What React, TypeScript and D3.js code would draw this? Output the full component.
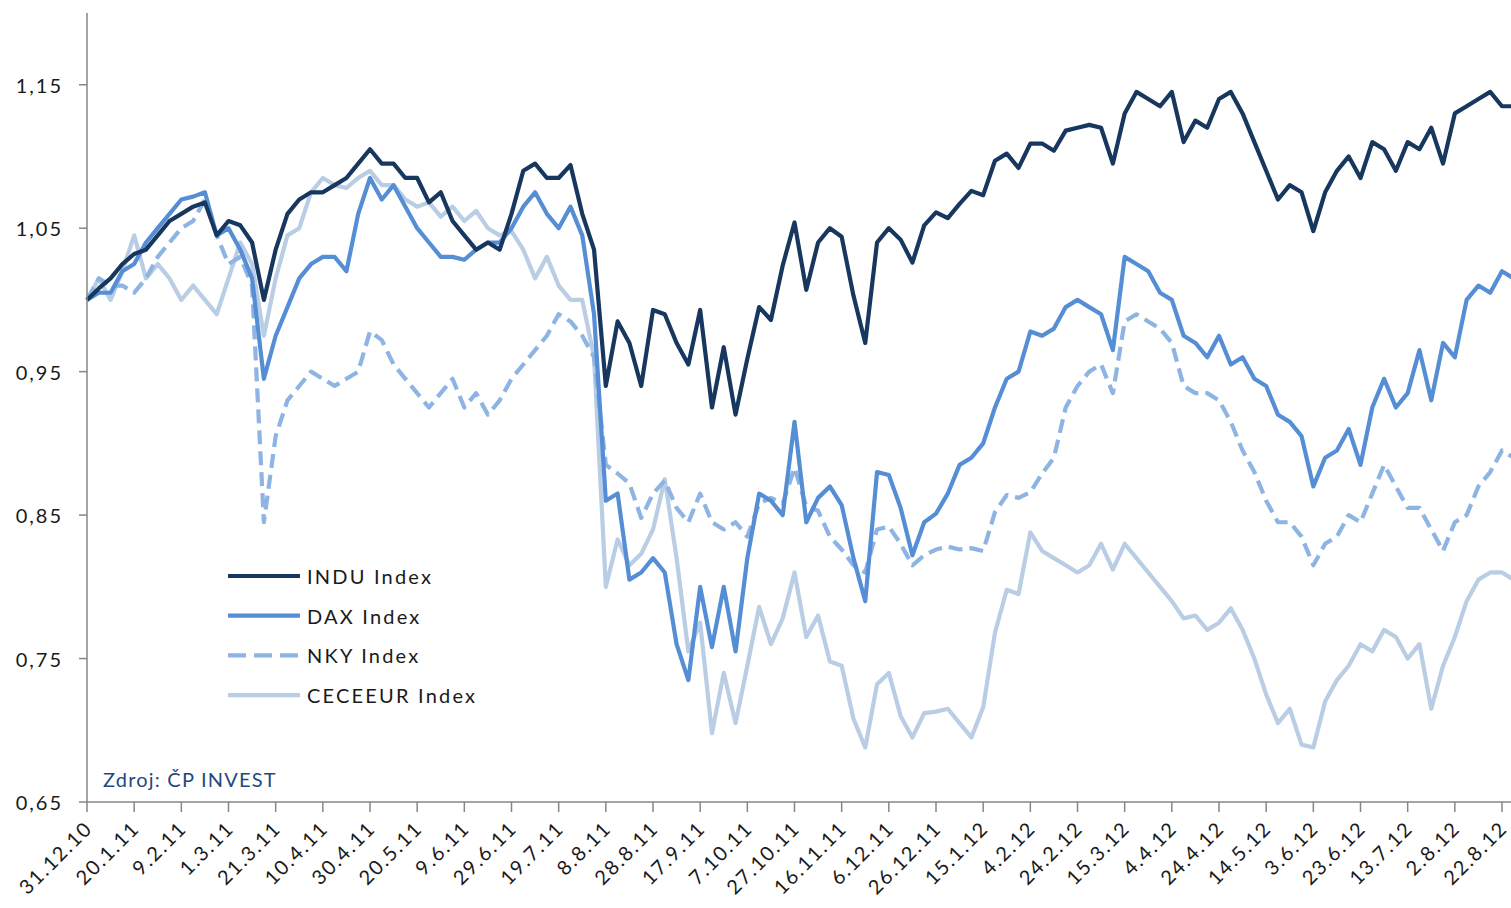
import React from "react";
import * as d3 from "d3";

const startDate = new Date(2010, 11, 31);
const stepDays = 5;

const tickLabels = ["31.12.10","20.1.11","9.2.11","1.3.11","21.3.11","10.4.11","30.4.11","20.5.11","9.6.11","29.6.11","19.7.11","8.8.11","28.8.11","17.9.11","7.10.11","27.10.11","16.11.11","6.12.11","26.12.11","15.1.12","4.2.12","24.2.12","15.3.12","4.4.12","24.4.12","14.5.12","3.6.12","23.6.12","13.7.12","2.8.12","22.8.12"];
const yTicks = [0.65, 0.75, 0.85, 0.95, 1.05, 1.15];
const yTickLabels = ["0,65", "0,75", "0,85", "0,95", "1,05", "1,15"];

const indu = [1.000,1.008,1.015,1.025,1.032,1.035,1.045,1.055,1.060,1.065,1.068,1.045,1.055,1.052,1.040,1.000,1.035,1.060,1.070,1.075,1.075,1.080,1.085,1.095,1.105,1.095,1.095,1.085,1.085,1.068,1.075,1.055,1.045,1.035,1.040,1.035,1.060,1.090,1.095,1.085,1.085,1.094,
  1.060,1.035,0.940,0.985,0.970,0.940,0.993,0.990,0.970,0.955,0.993,0.925,0.967,0.920,0.959,0.995,0.986,1.024,1.054,1.007,1.040,1.050,1.044,1.003,0.970,1.040,1.050,1.042,1.026,1.052,1.061,1.057,1.067,1.076,1.073,1.097,1.102,1.092,1.109,1.109,1.104,
  1.118,1.120,1.122,1.120,1.095,1.130,1.145,1.140,1.135,1.145,1.110,1.125,1.120,1.140,1.145,1.130,1.110,1.090,1.070,1.080,1.075,1.048,1.075,1.090,1.100,1.085,1.110,1.105,1.090,1.110,1.105,1.120,1.095,1.130,1.135,1.140,1.145,1.135,1.135];
const dax = [1.000,1.005,1.005,1.020,1.025,1.040,1.050,1.060,1.070,1.072,1.075,1.045,1.050,1.035,1.015,0.945,0.975,0.995,1.015,1.025,1.030,1.030,1.020,1.060,1.085,1.070,1.080,1.065,1.050,1.040,1.030,1.030,1.028,1.035,1.040,1.040,1.050,1.065,1.075,1.060,1.050,1.065,
  1.045,0.990,0.860,0.865,0.805,0.810,0.820,0.810,0.760,0.735,0.800,0.758,0.800,0.755,0.820,0.865,0.860,0.850,0.915,0.845,0.862,0.870,0.857,0.820,0.790,0.880,0.878,0.855,0.822,0.845,0.851,0.865,0.885,0.890,0.900,0.925,0.945,0.950,0.978,0.975,0.980,
  0.995,1.000,0.995,0.990,0.965,1.030,1.025,1.020,1.005,1.000,0.975,0.970,0.960,0.975,0.955,0.960,0.945,0.940,0.920,0.915,0.905,0.870,0.890,0.895,0.910,0.885,0.925,0.945,0.925,0.935,0.965,0.930,0.970,0.960,1.000,1.010,1.005,1.020,1.015];
const nky = [1.000,1.015,1.010,1.010,1.005,1.015,1.030,1.040,1.050,1.055,1.070,1.045,1.025,1.030,1.010,0.845,0.905,0.930,0.940,0.950,0.945,0.940,0.945,0.950,0.978,0.972,0.955,0.945,0.935,0.925,0.935,0.945,0.925,0.935,0.920,0.930,0.945,0.955,0.965,0.975,0.990,0.985,
  0.975,0.960,0.885,0.879,0.872,0.848,0.865,0.874,0.855,0.845,0.865,0.845,0.840,0.845,0.835,0.858,0.862,0.858,0.883,0.856,0.853,0.835,0.826,0.815,0.810,0.840,0.842,0.830,0.815,0.822,0.826,0.828,0.826,0.827,0.825,0.852,0.864,0.862,0.866,0.879,0.890,
  0.925,0.940,0.950,0.955,0.935,0.985,0.990,0.985,0.980,0.970,0.940,0.935,0.935,0.930,0.915,0.895,0.880,0.860,0.845,0.845,0.835,0.815,0.830,0.835,0.850,0.845,0.865,0.885,0.870,0.855,0.855,0.840,0.825,0.845,0.850,0.870,0.880,0.895,0.890];
const cec = [1.000,1.015,1.000,1.020,1.045,1.015,1.025,1.015,1.000,1.010,1.000,0.990,1.015,1.040,1.025,0.975,1.015,1.045,1.050,1.075,1.085,1.080,1.078,1.085,1.090,1.080,1.080,1.070,1.065,1.068,1.058,1.065,1.055,1.062,1.050,1.045,1.048,1.035,1.015,1.030,1.010,1.000,
  1.000,0.960,0.800,0.833,0.815,0.823,0.840,0.875,0.820,0.755,0.775,0.698,0.740,0.705,0.745,0.786,0.760,0.778,0.810,0.765,0.780,0.748,0.745,0.708,0.688,0.732,0.740,0.710,0.695,0.712,0.713,0.715,0.705,0.695,0.716,0.768,0.798,0.795,0.838,0.825,0.820,
  0.815,0.810,0.815,0.830,0.812,0.830,0.820,0.810,0.800,0.790,0.778,0.780,0.770,0.775,0.785,0.770,0.750,0.725,0.705,0.715,0.690,0.688,0.720,0.735,0.745,0.760,0.755,0.770,0.765,0.750,0.760,0.715,0.745,0.765,0.790,0.805,0.810,0.810,0.805];

const seriesNames = ["INDU Index", "DAX Index", "NKY Index", "CECEEUR Index"];
const seriesColors = ["#17375E", "#558ED5", "#8DB4E2", "#B9CDE5"];
const seriesDash = [null, null, "14,7", null];
const seriesValues = [indu, dax, nky, cec];

const FONT = "Lato, 'Open Sans', sans-serif";

export default function App() {
  const W = 1511, H = 908;
  const tickDates = tickLabels.map((_, i) => d3.timeDay.offset(startDate, i * 20));
  const x = d3.scaleTime().domain([startDate, tickDates[tickDates.length - 1]]).range([87, 1502]);
  const y = d3.scaleLinear().domain([0.65, 1.2]).range([802, 13]);
  const dates = indu.map((_, i) => d3.timeDay.offset(startDate, i * stepDays));
  const line = d3.line<number>().x((_, i) => x(dates[i])).y((v) => y(v));
  const drawOrder = [3, 2, 1, 0];
  const axisColor = "#868686";
  const textColor = "#1a1a1a";

  return (
    <svg width={W} height={H} style={{ position: "absolute", left: 0, top: 0, background: "#fff" }}>
      <rect x={0} y={0} width={W} height={H} fill="#fff" />
      {drawOrder.map((s) => (
        <path key={s} d={line(seriesValues[s]) || ""} fill="none" stroke={seriesColors[s]} strokeWidth={4.2}
          strokeDasharray={seriesDash[s] || undefined} strokeLinejoin="round" />
      ))}
      <line x1={87} x2={87} y1={13} y2={802} stroke={axisColor} strokeWidth={1.5} />
      <line x1={87} x2={W} y1={802} y2={802} stroke={axisColor} strokeWidth={1.5} />
      {yTicks.map((t, i) => (
        <g key={t}>
          <line x1={79} x2={87} y1={y(t)} y2={y(t)} stroke={axisColor} strokeWidth={1.5} />
          <text x={63} y={y(t)} textAnchor="end" dominantBaseline="central" fontFamily={FONT} fontSize={20}
            letterSpacing={2} fill={textColor}>{yTickLabels[i]}</text>
        </g>
      ))}
      {tickDates.map((d, i) => (
        <g key={i}>
          <line x1={x(d)} x2={x(d)} y1={802} y2={812} stroke={axisColor} strokeWidth={1.5} />
          <text transform={`translate(${x(d) + 1},${824}) rotate(-45)`} textAnchor="end" dominantBaseline="central"
            fontFamily={FONT} fontSize={20} letterSpacing={1.8} fill={textColor}>{tickLabels[i]}</text>
        </g>
      ))}
      {seriesNames.map((n, i) => {
        const ly = 576 + i * 39.7;
        return (
          <g key={n}>
            <line x1={228} x2={300} y1={ly} y2={ly} stroke={seriesColors[i]} strokeWidth={4.2}
              strokeDasharray={seriesDash[i] ? "18,8" : undefined} />
            <text x={307} y={ly} dominantBaseline="central" fontFamily={FONT} fontSize={20} letterSpacing={2.2}
              fill={textColor}>{n}</text>
          </g>
        );
      })}
      <text x={103} y={779} dominantBaseline="central" fontFamily={FONT} fontSize={20} letterSpacing={1.2} fill="#1F497D">Zdroj: ČP INVEST</text>
    </svg>
  );
}
